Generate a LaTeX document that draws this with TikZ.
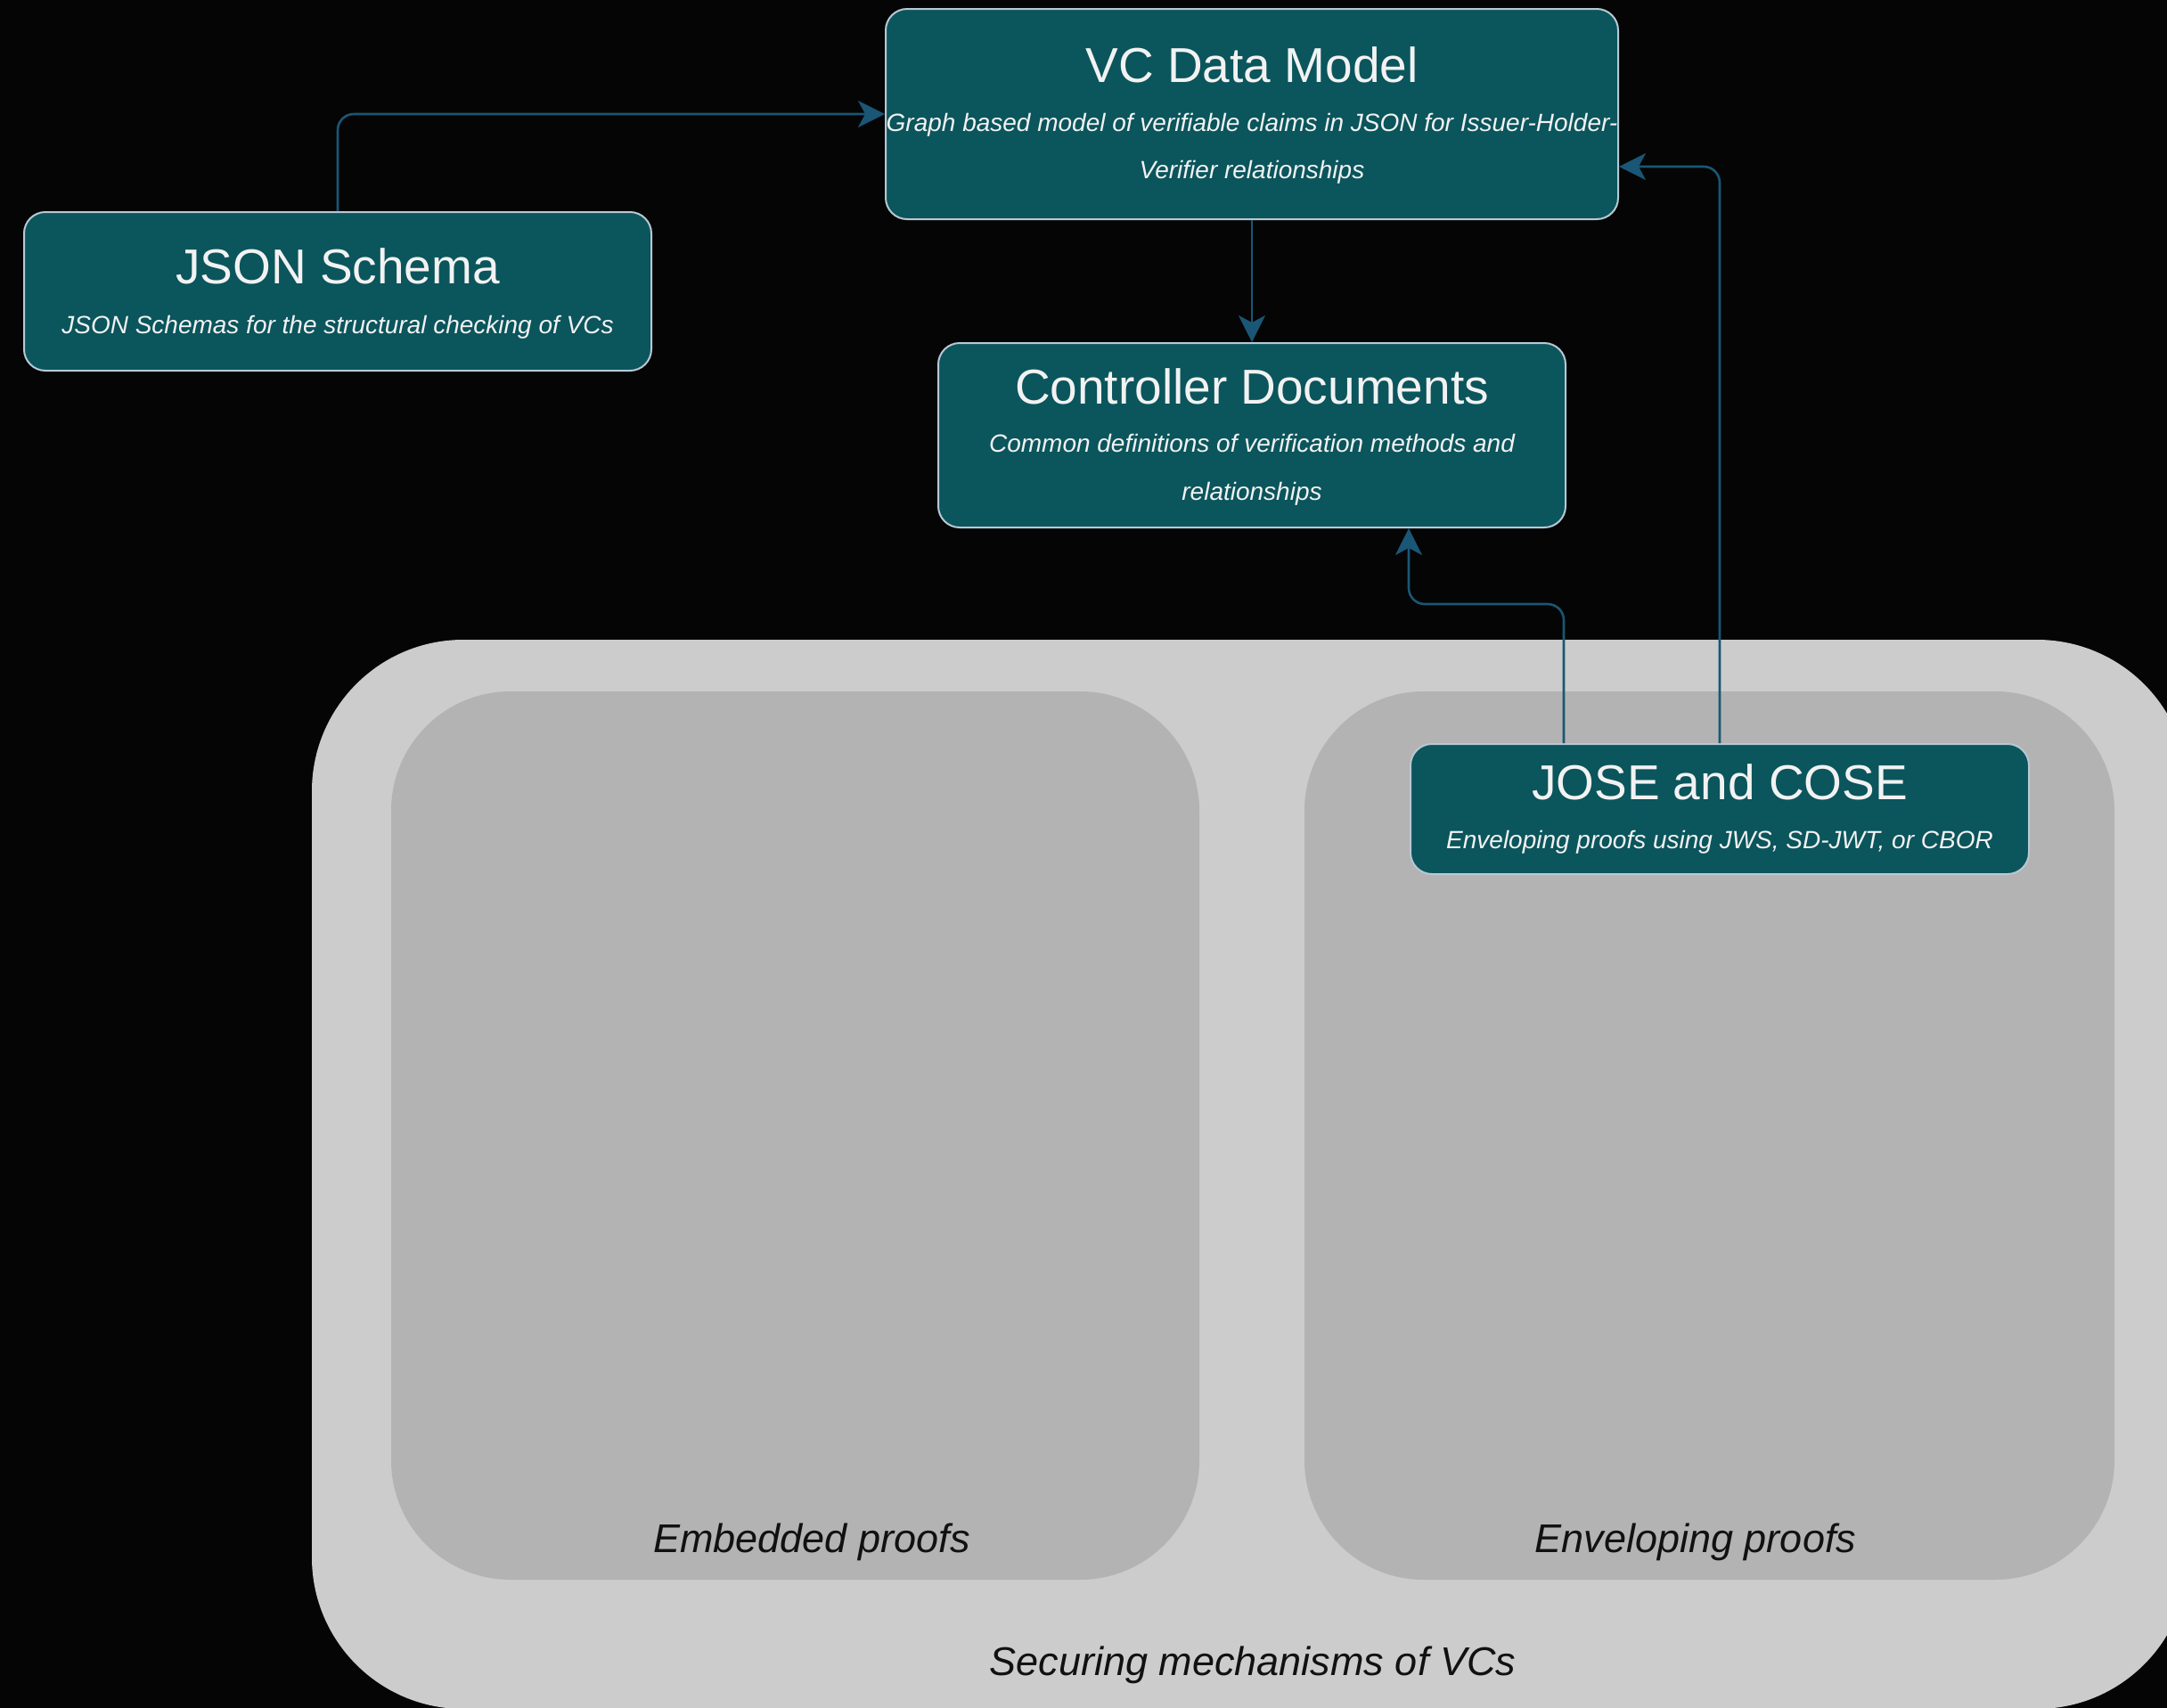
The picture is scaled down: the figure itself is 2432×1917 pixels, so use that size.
\documentclass[tikz,border=0pt]{standalone}
\usepackage{fontspec}
\setmainfont{Liberation Sans}
\usetikzlibrary{arrows.meta,calc}
\definecolor{bg}{HTML}{050505}
\definecolor{boxfill}{HTML}{0B555C}
\definecolor{boxline}{HTML}{B8C8D4}
\definecolor{arrowc}{HTML}{1A5675}
\definecolor{outerg}{HTML}{CCCCCC}
\definecolor{innerg}{HTML}{B3B3B3}
\definecolor{txtw}{HTML}{F2F2F2}
\definecolor{lbltxt}{HTML}{111111}
\begin{document}
\begin{tikzpicture}[x=0.5pt,y=-0.5pt,
  box/.style={draw=boxline, line width=1pt, fill=boxfill, rounded corners=12pt, inner sep=0pt},
  ttl/.style={anchor=base, text=txtw, font=\fontsize{27.5}{33}\selectfont, inner sep=0pt},
  sub/.style={anchor=base, text=txtw, font=\fontsize{14}{17}\selectfont\itshape, inner sep=0pt},
  lbl/.style={anchor=base, text=lbltxt, font=\fontsize{22.5}{27}\selectfont\itshape, inner sep=0pt},
  arr/.style={draw=arrowc, line width=1.3pt, rounded corners=9pt, -{Stealth[length=15pt,width=15pt,inset=4pt]}},
]
\useasboundingbox (0,0) rectangle (2432,1917);
\fill[bg] (0,0) rectangle (2432,1917);
\clip (0,0) rectangle (2432,1917);

% groups
\fill[outerg, rounded corners=85pt] (350,718) rectangle (2456,1918);
\fill[innerg, rounded corners=67pt] (439,776) rectangle (1346,1773);
\fill[innerg, rounded corners=67pt] (1464,776) rectangle (2373,1773);
\node[lbl] (emb) at (911,1742) {Embedded proofs};
\node[lbl] (env) at (1903,1742) {Enveloping proofs};
\node[lbl] (sec) at (1406,1880) {Securing mechanisms of VCs};

% boxes
\node[box, minimum width=411pt, minimum height=118pt] (vc) at (1405,128) {};
\node[ttl] (vct) at (1405,92) {VC Data Model};
\node[sub] (vcs1) at (1405,147) {Graph based model of verifiable claims in JSON for Issuer-Holder-};
\node[sub] (vcs2) at (1405,200) {Verifier relationships};

\node[box, minimum width=352pt, minimum height=89pt] (json) at (379,327) {};
\node[ttl] (jsont) at (379,318) {JSON Schema};
\node[sub] (jsons) at (379,374) {JSON Schemas for the structural checking of VCs};

\node[box, minimum width=352pt, minimum height=103.5pt] (ctrl) at (1405,488.5) {};
\node[ttl] (ctrlt) at (1405,453) {Controller Documents};
\node[sub] (ctrls1) at (1405,507) {Common definitions of verification methods and};
\node[sub] (ctrls2) at (1405,561) {relationships};

\node[box, minimum width=347pt, minimum height=73pt] (jose) at (1930,908) {};
\node[ttl] (joset) at (1930,897) {JOSE and COSE};
\node[sub] (joses) at (1930,952) {Enveloping proofs using JWS, SD-JWT, or CBOR};

% connectors
\draw[arr] (json.north) |- (vc.west);
\draw[arr] (vc.south) -- (ctrl.north);
\draw[arr] ([xshift=-87.5pt]jose.north) -- ++(0,-156) -| ([xshift=88pt]ctrl.south);
\draw[arr] (jose.north) |- ([yshift=-29.5pt]vc.east);
\end{tikzpicture}
\end{document}
